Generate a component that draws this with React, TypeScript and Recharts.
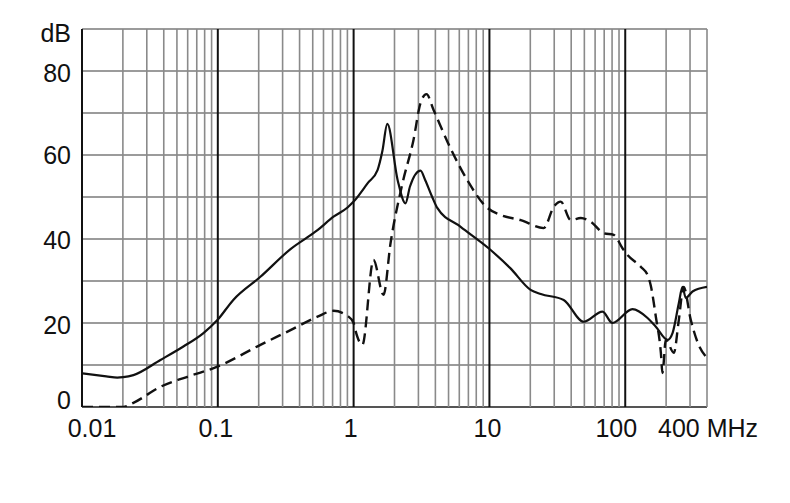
import { LineChart, Line, XAxis, YAxis, ReferenceLine } from 'recharts';

// frequency (MHz) / level (dB)
const solidFreq = [
  0.01, 0.0151, 0.0182, 0.0201, 0.0239, 0.0378, 0.0558, 0.0784, 0.0993, 0.13, 0.206, 0.343, 0.542,
  0.711, 0.902, 1.0, 1.27, 1.5, 1.63, 1.77, 2.11, 2.41, 2.6, 3.11, 3.37, 3.79, 4.13, 6.14, 9.86,
  14.3, 20.1, 23.9, 35.2, 49.5, 68, 80.5, 113, 146, 168, 205, 223, 248, 264, 279, 313, 400,
];
const solidLevel = [
  8.0, 7.3, 7.0, 7.1, 7.6, 11.2, 14.4, 17.6, 20.7, 25.5, 31.0, 37.6, 42.1,
  45.3, 47.5, 48.9, 53.3, 56.4, 61.0, 67.4, 54.0, 48.5, 52.5, 56.3, 54.0, 50.0, 47.4, 42.9, 37.8,
  33.0, 27.9, 26.9, 25.5, 20.3, 22.7, 20.0, 23.3, 21.2, 19.1, 16.0, 17.6, 24.7, 28.6, 26.0, 27.5, 28.6,
];

const dashedFreq = [
  0.01, 0.0201, 0.0239, 0.0378, 0.0597, 0.0993, 0.206, 0.343, 0.542, 0.711, 0.902, 1.0, 1.03, 1.16,
  1.4, 1.66, 1.87, 2.28, 2.76, 3.11, 3.44, 3.88, 5.17, 6.87, 9.66, 12.1, 17.0, 25.1, 29.8, 33.5,
  39.7, 47.1, 55.7, 69.5, 82.3, 95.4, 104, 130, 146, 154, 168, 183, 188, 199, 228, 248, 269, 304,
  343, 400,
];
const dashedLevel = [
  0, 0, 1.0, 4.8, 7.2, 9.6, 14.8, 18.3, 21.5, 22.9, 21.7, 20.0, 18.3, 14.8,
  35.0, 26.7, 39.0, 53.0, 63.6, 72.4, 74.5, 70.7, 61.6, 54.0, 47.4, 45.7, 44.5, 42.6, 47.7, 48.9,
  44.5, 45.0, 44.1, 41.4, 41.0, 37.8, 36.2, 33.4, 31.4, 29.0, 21.5, 12.9, 8.1, 16.0, 12.9, 20.7, 28.6, 20.7,
  15.2, 11.7,
];

const freqTicks = [0.01, 0.1, 1, 10, 100, 400];
const freqLabels = ['0.01', '0.1', '1', '10', '100', '400 MHz'];
const levelTicks = [0, 20, 40, 60, 80, 90];
const levelLabels = ['0', '20', '40', '60', '80', 'dB'];

const decades = [0.01, 0.1, 1, 10, 100];
const multiples = [2, 3, 4, 5, 6, 7, 8, 9];
const levelGrid = [10, 20, 30, 40, 50, 60, 70, 80, 90];

const solidData = solidFreq.map((f, i) => ({ f, v: solidLevel[i] }));
const dashedData = dashedFreq.map((f, i) => ({ f, v: dashedLevel[i] }));

const minorLines: number[] = [];
decades.forEach((d) =>
  multiples.forEach((k) => {
    const f = +(k * d).toPrecision(3);
    if (f <= 400) minorLines.push(f);
  })
);

const font = '"Liberation Sans", Arial, sans-serif';

// small nudges so labels sit where the original puts them
const xShift: Record<string, number> = { '0.01': 10, '0.1': -2, '1': -3, '10': -2, '100': -9 };
const yShift: Record<string, number> = { '0': -7, '20': 2, '40': 1, '60': 0, '80': 2, '90': 4 };

const FreqTick = ({ x, y, payload }: any) => {
  const i = freqTicks.indexOf(payload.value);
  const label = freqLabels[i];
  const last = payload.value === 400;
  return (
    <text
      x={last ? x - 49 : x + (xShift[String(payload.value)] || 0)}
      y={y + 30}
      textAnchor={last ? 'start' : 'middle'}
      fontSize={25}
      fontFamily={font}
      fill="#111"
    >
      {label}
    </text>
  );
};

const LevelTick = ({ x, y, payload }: any) => {
  const i = levelTicks.indexOf(payload.value);
  return (
    <text
      x={x}
      y={y + (yShift[String(payload.value)] || 0)}
      textAnchor="end"
      dominantBaseline="central"
      fontSize={25}
      fontFamily={font}
      fill="#111"
    >
      {levelLabels[i]}
    </text>
  );
};

export default function App() {
  return (
    <div style={{ width: 780, height: 490 }}>
      <LineChart width={780} height={490} margin={{ top: 21, right: 81, left: 0, bottom: 51 }}>
        <XAxis
          dataKey="f"
          type="number"
          scale="log"
          domain={[0.01, 400]}
          allowDataOverflow
          ticks={freqTicks}
          tick={<FreqTick />}
          tickLine={false}
          axisLine={false}
          tickSize={0}
          tickMargin={0}
          height={40}
        />
        <YAxis
          type="number"
          domain={[0, 90]}
          allowDataOverflow
          ticks={levelTicks}
          tick={<LevelTick />}
          tickLine={false}
          axisLine={false}
          tickSize={0}
          tickMargin={11}
          width={74}
        />
        {levelGrid.map((v) => (
          <ReferenceLine key={'h' + v} y={v} stroke="#7a7a7a" strokeWidth={1.6} />
        ))}
        <ReferenceLine y={0} stroke="#555" strokeWidth={1.8} />
        {minorLines.map((f) => (
          <ReferenceLine key={'m' + f} x={f} stroke="#8a8a8a" strokeWidth={1.6} />
        ))}
        {decades.map((f) => (
          <ReferenceLine key={'d' + f} x={f} stroke="#111" strokeWidth={2} />
        ))}
        <Line
          data={dashedData}
          dataKey="v"
          type="monotone"
          stroke="#111"
          strokeWidth={2.4}
          strokeDasharray="11 6"
          dot={false}
          activeDot={false}
          isAnimationActive={false}
        />
        <Line
          data={solidData}
          dataKey="v"
          type="monotone"
          stroke="#111"
          strokeWidth={2.2}
          dot={false}
          activeDot={false}
          isAnimationActive={false}
        />
      </LineChart>
    </div>
  );
}
